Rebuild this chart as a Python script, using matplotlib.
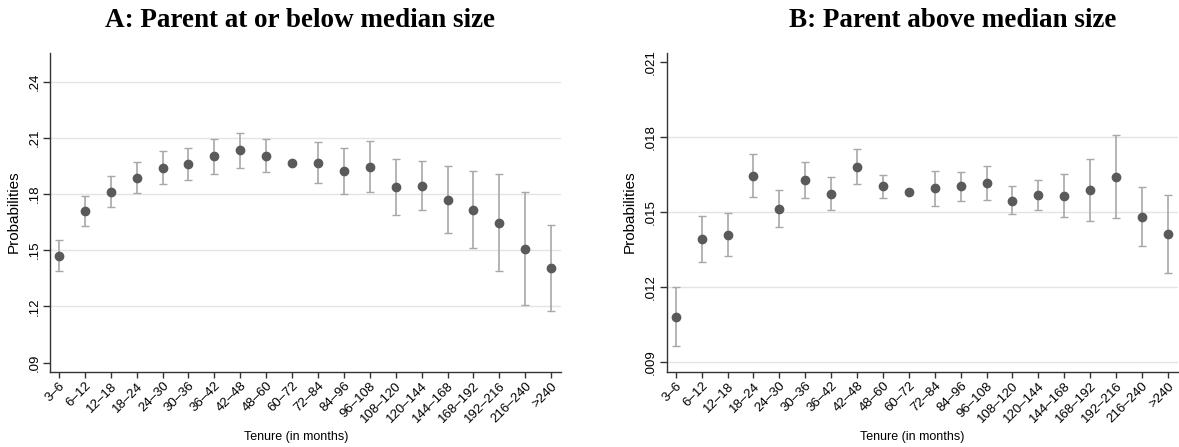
import matplotlib
matplotlib.use("Agg")
import matplotlib.pyplot as plt
import numpy as np

categories = ["3–6", "6–12", "12–18", "18–24", "24–30", "30–36", "36–42", "42–48",
              "48–60", "60–72", "72–84", "84–96", "96–108", "108–120", "120–144",
              "144–168", "168–192", "192–216", "216–240", ">240"]

# Panel A: parent at or below median size
a_est = [0.1469, 0.1708, 0.1811, 0.1888, 0.1942, 0.1961, 0.2002, 0.2034, 0.2006, 0.1968,
         0.1966, 0.1923, 0.1947, 0.1836, 0.1845, 0.1768, 0.1717, 0.1647, 0.1508, 0.1405]
a_hi = [0.1553, 0.1790, 0.1895, 0.1972, 0.2029, 0.2049, 0.2095, 0.2129, 0.2093, np.nan,
        0.2077, 0.2046, 0.2082, 0.1988, 0.1977, 0.1949, 0.1926, 0.1907, 0.1813, 0.1635]
a_lo = [0.1389, 0.1628, 0.1733, 0.1804, 0.1856, 0.1875, 0.1909, 0.1942, 0.1918, np.nan,
        0.1859, 0.1800, 0.1811, 0.1686, 0.1715, 0.1592, 0.1510, 0.1389, 0.1205, 0.1177]

# Panel B: parent above median size
b_est = [0.01081, 0.01394, 0.01411, 0.01646, 0.01515, 0.01629, 0.01573, 0.01681, 0.01604, 0.01581,
         0.01597, 0.01604, 0.01617, 0.01547, 0.01569, 0.01567, 0.01589, 0.01642, 0.01483, 0.01414]
b_hi = [0.01200, 0.01487, 0.01497, 0.01733, 0.01591, 0.01703, 0.01640, 0.01753, 0.01648, np.nan,
        0.01666, 0.01660, 0.01684, 0.01605, 0.01630, 0.01652, 0.01715, 0.01808, 0.01602, 0.01569]
b_lo = [0.00963, 0.01303, 0.01326, 0.01562, 0.01441, 0.01557, 0.01509, 0.01613, 0.01558, np.nan,
        0.01527, 0.01547, 0.01549, 0.01493, 0.01509, 0.01483, 0.01466, 0.01477, 0.01364, 0.01259]

a_yticks = [0.09, 0.12, 0.15, 0.18, 0.21, 0.24]
a_yticklabels = [".09", ".12", ".15", ".18", ".21", ".24"]
b_yticks = [0.009, 0.012, 0.015, 0.018, 0.021]
b_yticklabels = [".009", ".012", ".015", ".018", ".021"]

titles = ["A: Parent at or below median size", "B: Parent above median size"]

W, H = 1179, 447
fig = plt.figure(figsize=(W / 100, H / 100), dpi=100)
plt.rcParams['font.family'] = ['Liberation Sans', 'DejaVu Sans']

def px_axes(l, r, t, b):
    return fig.add_axes([l / W, 1 - b / H, (r - l) / W, (b - t) / H])

MK = "#5a5a5a"
EB = "#a8a8a8"
GR = "#e4e4e4"
AX = "#333333"

panels = [
    dict(est=a_est, hi=a_hi, lo=a_lo, yt=a_yticks, ytl=a_yticklabels, ylim=(0.0851, 0.2554),
         box=(50, 560.7, 53, 371.7), grid=[0.12, 0.15, 0.18, 0.21, 0.24],
         title_x=300, xlab_x=296, ylab_x=14),
    dict(est=b_est, hi=b_hi, lo=b_lo, yt=b_yticks, ytl=b_yticklabels, ylim=(0.00862, 0.02138),
         box=(666.7, 1177.5, 53, 371.7), grid=[0.009, 0.012, 0.015, 0.018],
         title_x=953, xlab_x=912, ylab_x=630),
]

for i, p in enumerate(panels):
    ax = px_axes(*p["box"])
    x = np.arange(1, len(categories) + 1)
    est = np.array(p["est"])
    hi = np.array(p["hi"])
    lo = np.array(p["lo"])
    mask = ~np.isnan(hi)
    for g in p["grid"]:
        ax.axhline(g, color=GR, lw=1.0, zorder=0)
    ax.errorbar(x[mask], est[mask], yerr=[est[mask] - lo[mask], hi[mask] - est[mask]],
                fmt="none", ecolor=EB, elinewidth=1.2, capsize=2.8, capthick=1.0, zorder=2)
    ax.plot(x, est, "o", color=MK, ms=6, mec=MK, zorder=3, linestyle="none")
    ax.set_xlim(0.653, 20.37)
    ax.set_ylim(*p["ylim"])
    ax.set_xticks(x)
    ax.set_xticklabels(categories, rotation=45, ha="right", rotation_mode="anchor", fontsize=9.5)
    ax.set_yticks(p["yt"])
    ax.set_yticklabels(p["ytl"], rotation=90, va="center", fontsize=9.5)
    ax.tick_params(axis="x", length=4, width=1, color=AX, pad=2)
    ax.tick_params(axis="y", length=5, width=1, color=AX, pad=2)
    for s in ["top", "right"]:
        ax.spines[s].set_visible(False)
    for s in ["left", "bottom"]:
        ax.spines[s].set_color(AX)
        ax.spines[s].set_linewidth(1.0)
    ax.set_facecolor("white")
    fig.text(p["title_x"] / W, 1 - 27 / H, titles[i], ha="center", va="baseline",
             fontsize=19.5, fontweight="bold", family=["Liberation Serif", "DejaVu Serif"])
    fig.text(p["xlab_x"] / W, 1 - 437 / H, "Tenure (in months)", ha="center", va="center",
             fontsize=9)
    fig.text(p["ylab_x"] / W, 1 - 212 / H, "Probabilities", ha="center", va="center",
             rotation=90, fontsize=11)

fig.savefig("out.png", dpi=100, facecolor="white")
